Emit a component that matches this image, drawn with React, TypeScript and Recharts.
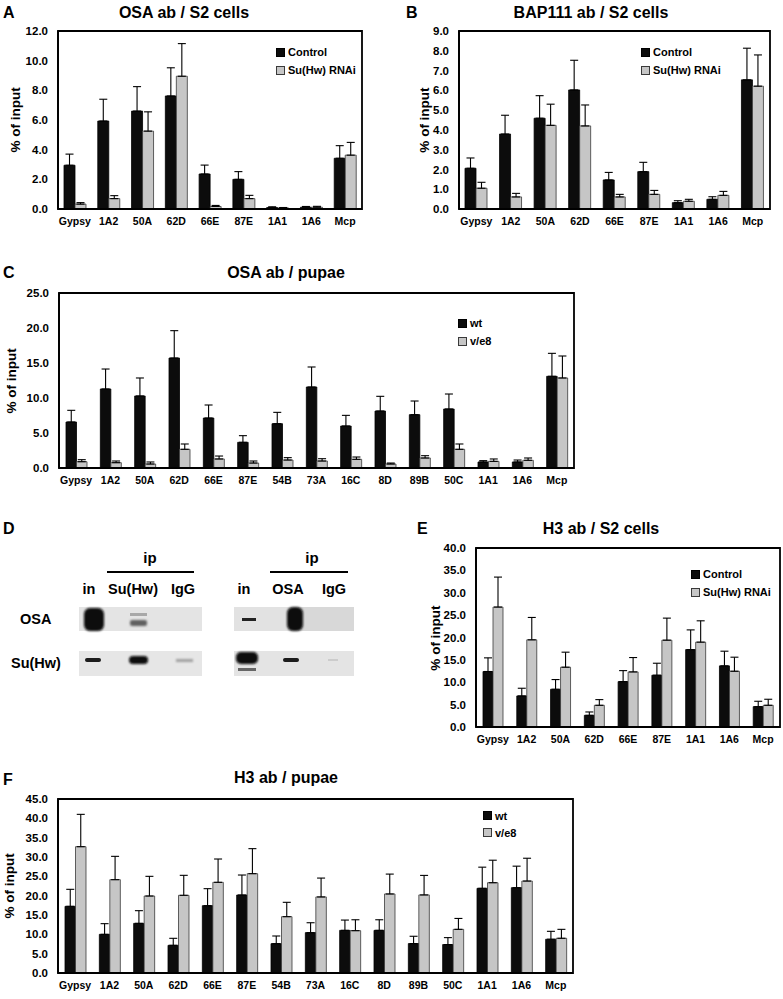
import React from 'react';
import { BarChart, Bar, XAxis, YAxis, ErrorBar, ReferenceArea, Legend } from 'recharts';

// ---------- data ----------
const s2Categories = ['Gypsy', '1A2', '50A', '62D', '66E', '87E', '1A1', '1A6', 'Mcp'];
const pupaeCategories = ['Gypsy', '1A2', '50A', '62D', '66E', '87E', '54B', '73A', '16C', '8D', '89B', '50C', '1A1', '1A6', 'Mcp'];

// A: OSA ab / S2 cells
const osaS2Control = [2.95, 5.93, 6.6, 7.62, 2.36, 2.0, 0.1, 0.12, 3.42];
const osaS2ControlErr = [0.75, 1.47, 1.65, 1.9, 0.6, 0.52, 0.05, 0.05, 0.85];
const osaS2Rnai = [0.33, 0.7, 5.25, 8.95, 0.17, 0.7, 0.07, 0.12, 3.63];
const osaS2RnaiErr = [0.1, 0.2, 1.3, 2.2, 0.07, 0.22, 0.03, 0.06, 0.86];
const osaS2Ticks = [0, 2, 4, 6, 8, 10, 12];

// B: BAP111 ab / S2 cells
const bapS2Control = [2.06, 3.79, 4.59, 6.02, 1.47, 1.89, 0.32, 0.49, 6.53];
const bapS2ControlErr = [0.52, 0.95, 1.14, 1.5, 0.38, 0.47, 0.1, 0.13, 1.6];
const bapS2Rnai = [1.05, 0.61, 4.23, 4.2, 0.61, 0.74, 0.39, 0.69, 6.21];
const bapS2RnaiErr = [0.3, 0.18, 1.07, 1.06, 0.13, 0.2, 0.1, 0.2, 1.58];
const bapS2Ticks = [0, 1, 2, 3, 4, 5, 6, 7, 8, 9];

// C: OSA ab / pupae
const osaPupaeWt = [6.57, 11.29, 10.29, 15.71, 7.14, 3.67, 6.33, 11.57, 6.0, 8.14, 7.62, 8.43, 0.86, 0.86, 13.1];
const osaPupaeWtErr = [1.67, 2.85, 2.57, 3.91, 1.86, 0.95, 1.62, 2.86, 1.52, 2.1, 1.95, 2.14, 0.19, 0.28, 3.28];
const osaPupaeVe8 = [0.9, 0.76, 0.57, 2.67, 1.29, 0.71, 1.14, 1.0, 1.24, 0.57, 1.43, 2.67, 0.95, 1.1, 12.86];
const osaPupaeVe8Err = [0.29, 0.24, 0.29, 0.76, 0.42, 0.29, 0.34, 0.33, 0.33, 0.14, 0.33, 0.76, 0.34, 0.33, 3.14];
const osaPupaeTicks = [0, 5, 10, 15, 20, 25];

// E: H3 ab / S2 cells
const h3S2Control = [12.4, 6.94, 8.43, 2.61, 10.15, 11.57, 17.3, 13.66, 4.55];
const h3S2ControlErr = [3.05, 1.72, 2.17, 0.75, 2.45, 2.68, 4.4, 3.28, 1.2];
const h3S2Rnai = [26.8, 19.48, 13.36, 4.85, 12.31, 19.4, 18.96, 12.46, 4.85];
const h3S2RnaiErr = [6.7, 5.0, 3.36, 1.27, 3.21, 4.93, 4.77, 3.14, 1.35];
const h3S2Ticks = [0, 5, 10, 15, 20, 25, 30, 35, 40];

// F: H3 ab / pupae
const h3PupaeWt = [17.24, 10.0, 12.84, 7.16, 17.41, 20.17, 7.59, 10.44, 11.03, 11.03, 7.61, 7.36, 21.9, 22.07, 8.73];
const h3PupaeWtErr = [4.4, 2.76, 3.28, 1.81, 4.4, 5.17, 1.98, 2.56, 2.66, 2.74, 1.89, 1.79, 5.47, 5.56, 2.05];
const h3PupaeVe8 = [32.67, 24.14, 19.91, 20.09, 23.45, 25.69, 14.57, 19.67, 10.95, 20.44, 20.19, 11.29, 23.35, 23.78, 8.98];
const h3PupaeVe8Err = [8.36, 6.03, 5.09, 5.17, 6.03, 6.47, 3.71, 4.88, 2.82, 5.14, 5.05, 2.82, 5.82, 5.9, 2.31];
const h3PupaeTicks = [0, 5, 10, 15, 20, 25, 30, 35, 40, 45];

// ---------- styling ----------
const FONT = "'Liberation Sans', Arial, sans-serif";
const DARK = '#0c0c0c';
const LIGHT = '#c6c6c6';
const LIGHT_STROKE = '#3a3a3a';

type Series = { name: string; values: number[]; errors: number[]; fill: string; stroke: string };

type PanelProps = {
  left: number;
  top: number;
  width: number;
  height: number;
  plotLeft: number; // local
  plotTop: number;
  plotRight: number;
  plotBottom: number;
  categories: string[];
  series: Series[];
  ticks: number[];
  barSize: number;
  legendLeft: number;
  legendTop: number;
  legendRow: number;
};

function buildRows(categories: string[], series: Series[]) {
  return categories.map((c, i) => {
    const row: Record<string, any> = { category: c };
    series.forEach((s, k) => {
      row['v' + k] = s.values[i];
      row['e' + k] = [0, s.errors[i]];
    });
    return row;
  });
}

function LegendBox({ series, rowH }: { series: Series[]; rowH: number }) {
  return (
    <div style={{ fontFamily: FONT, fontWeight: 700, fontSize: 11, color: '#000' }}>
      {series.map((s) => (
        <div key={s.name} style={{ display: 'flex', alignItems: 'center', height: rowH, whiteSpace: 'nowrap' }}>
          <span
            style={{
              display: 'inline-block',
              width: 7,
              height: 7,
              background: s.fill,
              border: `1px solid ${s.stroke}`,
              marginRight: 3,
            }}
          />
          {s.name}
        </div>
      ))}
    </div>
  );
}

function Panel(p: PanelProps) {
  const rows = buildRows(p.categories, p.series);
  const xAxisH = 22;
  const yMax = p.ticks[p.ticks.length - 1];
  return (
    <div style={{ position: 'absolute', left: p.left, top: p.top, width: p.width, height: p.height }}>
      <BarChart
        width={p.width}
        height={p.height}
        data={rows}
        barGap={0}
        margin={{ top: p.plotTop, right: p.width - p.plotRight, bottom: p.height - p.plotBottom - xAxisH, left: 0 }}
      >
        <XAxis
          dataKey="category"
          height={xAxisH}
          tickLine={false}
          tickSize={0}
          tickMargin={9}
          axisLine={{ stroke: '#000', strokeWidth: 1.8 }}
          interval={0}
          tick={{ fontFamily: FONT, fontWeight: 700, fontSize: 10.5, fill: '#000' }}
        />
        <YAxis
          width={p.plotLeft}
          domain={[0, yMax]}
          ticks={p.ticks}
          interval={0}
          tickLine={false}
          tickSize={0}
          tickMargin={10}
          axisLine={{ stroke: '#000', strokeWidth: 1.8 }}
          tickFormatter={(v: number) => v.toFixed(1)}
          tick={{ fontFamily: FONT, fontWeight: 700, fontSize: 11.5, fill: '#000' }}
        />
        <ReferenceArea y1={0} y2={yMax} fill="none" stroke="#000" strokeWidth={1.8} ifOverflow="visible" />
        <Legend
          layout="vertical"
          align="center"
          verticalAlign="middle"
          wrapperStyle={{ left: p.legendLeft, top: p.legendTop, width: 'auto' }}
          content={() => <LegendBox series={p.series} rowH={p.legendRow} />}
        />
        {p.series.map((s, k) => (
          <Bar
            key={s.name}
            dataKey={'v' + k}
            name={s.name}
            fill={s.fill}
            stroke={s.stroke}
            strokeWidth={0.8}
            barSize={p.barSize}
            isAnimationActive={false}
          >
            <ErrorBar dataKey={'e' + k} width={4} stroke="#000" strokeWidth={1.1} direction="y" />
          </Bar>
        ))}
      </BarChart>
    </div>
  );
}

const s2Series = (c: number[], ce: number[], r: number[], re: number[]): Series[] => [
  { name: 'Control', values: c, errors: ce, fill: DARK, stroke: '#000' },
  { name: 'Su(Hw) RNAi', values: r, errors: re, fill: LIGHT, stroke: LIGHT_STROKE },
];
const pupaeSeries = (w: number[], we: number[], v: number[], ve: number[]): Series[] => [
  { name: 'wt', values: w, errors: we, fill: DARK, stroke: '#000' },
  { name: 'v/e8', values: v, errors: ve, fill: LIGHT, stroke: LIGHT_STROKE },
];

function Overlay() {
  const t = { fontFamily: FONT, fontWeight: 700 } as const;
  const yLabel = (x: number, y: number) => (
    <text x={x} y={y} transform={`rotate(-90 ${x} ${y})`} textAnchor="middle" dominantBaseline="central" fontSize={13.5} {...t}>
      % of input
    </text>
  );
  const letter = (x: number, y: number, s: string) => (
    <text x={x} y={y} dominantBaseline="central" fontSize={16} {...t}>{s}</text>
  );
  const title = (x: number, y: number, s: string) => (
    <text x={x} y={y} textAnchor="middle" dominantBaseline="central" fontSize={16} {...t}>{s}</text>
  );
  const label = (x: number, y: number, s: string, size = 14.5) => (
    <text x={x} y={y} textAnchor="middle" dominantBaseline="central" fontSize={size} {...t}>{s}</text>
  );
  return (
    <svg width={783} height={999} style={{ position: 'absolute', left: 0, top: 0, pointerEvents: 'none' }}>
      <defs>
        <filter id="blur" x="-50%" y="-50%" width="200%" height="200%">
          <feGaussianBlur stdDeviation="1.3" />
        </filter>
        <filter id="blur2" x="-50%" y="-50%" width="200%" height="200%">
          <feGaussianBlur stdDeviation="0.7" />
        </filter>
      </defs>
      {/* panel letters and titles */}
      {letter(3, 12, 'A')}
      {title(184, 12, 'OSA ab / S2 cells')}
      {letter(406, 12, 'B')}
      {title(591, 12, 'BAP111 ab / S2 cells')}
      {letter(3, 272, 'C')}
      {title(286, 272, 'OSA ab / pupae')}
      {letter(3, 528, 'D')}
      {letter(417, 528, 'E')}
      {title(601, 528, 'H3 ab / S2 cells')}
      {letter(3, 779, 'F')}
      {title(286, 777, 'H3 ab / pupae')}

      {/* y axis titles */}
      {yLabel(15, 120)}
      {yLabel(424, 120)}
      {yLabel(11, 381)}
      {yLabel(435, 638)}
      {yLabel(9, 886)}

      {/* panel D: co-immunoprecipitation blots */}
      {label(150, 557, 'ip', 15)}
      <line x1={107} y1={572} x2={194} y2={572} stroke="#000" strokeWidth={2} />
      {label(312, 557, 'ip', 15)}
      <line x1={270} y1={572} x2={348} y2={572} stroke="#000" strokeWidth={2} />
      {label(89, 589, 'in')}
      {label(133, 589, 'Su(Hw)')}
      {label(183, 589, 'IgG')}
      {label(244, 589, 'in')}
      {label(288, 589, 'OSA')}
      {label(334, 589, 'IgG')}
      <text x={20} y={619} dominantBaseline="central" fontSize={14.5} {...t}>OSA</text>
      <text x={11} y={663} dominantBaseline="central" fontSize={14.5} {...t}>Su(Hw)</text>

      {/* strips */}
      <rect x={79} y={607} width={123} height={24} fill="#e4e4e4" />
      <rect x={234} y={607} width={120} height={24} fill="#e2e2e2" />
      <rect x={300} y={607} width={54} height={24} fill="#d8d8d8" />
      <rect x={79} y={651} width={123} height={25} fill="#e6e6e6" />
      <rect x={234} y={651} width={120} height={25} fill="#e4e4e4" />

      {/* OSA row bands */}
      <rect x={84} y={608} width={20} height={23} rx={6} fill="#0a0a0a" filter="url(#blur)" />
      <rect x={130} y={613} width={17} height={3} fill="#a8a8a8" filter="url(#blur2)" />
      <rect x={130} y={620} width={17} height={6} rx={2} fill="#606060" filter="url(#blur)" />
      <rect x={242} y={618} width={14} height={3} fill="#222" filter="url(#blur2)" />
      <rect x={287} y={607} width={16} height={24} rx={6} fill="#080808" filter="url(#blur)" />

      {/* Su(Hw) row bands */}
      <rect x={85} y={658} width={16} height={4} rx={2} fill="#1a1a1a" filter="url(#blur2)" />
      <rect x={129} y={656} width={19} height={8} rx={4} fill="#080808" filter="url(#blur)" />
      <rect x={176} y={659} width={17} height={3} fill="#a0a0a0" filter="url(#blur)" />
      <rect x={236} y={652} width={22} height={12} rx={5} fill="#080808" filter="url(#blur)" />
      <rect x={238} y={668} width={18} height={3} fill="#666" filter="url(#blur2)" />
      <rect x={283} y={658} width={16} height={4} rx={2} fill="#1a1a1a" filter="url(#blur2)" />
      <rect x={328} y={659} width={10} height={2} fill="#ccc" filter="url(#blur2)" />
    </svg>
  );
}

export default function App() {
  return (
    <div style={{ position: 'relative', width: 783, height: 999, background: '#fff', overflow: 'hidden' }}>
      <style>{`body{margin:0;}`}</style>
      <Panel
        left={0}
        top={0}
        width={372}
        height={235}
        plotLeft={58}
        plotTop={31}
        plotRight={362}
        plotBottom={209}
        categories={s2Categories}
        series={s2Series(osaS2Control, osaS2ControlErr, osaS2Rnai, osaS2RnaiErr)}
        ticks={osaS2Ticks}
        barSize={11}
        legendLeft={276}
        legendTop={43}
        legendRow={18}
      />
      <Panel
        left={390}
        top={0}
        width={393}
        height={235}
        plotLeft={69}
        plotTop={31}
        plotRight={380}
        plotBottom={209}
        categories={s2Categories}
        series={s2Series(bapS2Control, bapS2ControlErr, bapS2Rnai, bapS2RnaiErr)}
        ticks={bapS2Ticks}
        barSize={11}
        legendLeft={251}
        legendTop={43}
        legendRow={18}
      />
      <Panel
        left={0}
        top={250}
        width={590}
        height={240}
        plotLeft={59}
        plotTop={43}
        plotRight={574}
        plotBottom={218}
        categories={pupaeCategories}
        series={pupaeSeries(osaPupaeWt, osaPupaeWtErr, osaPupaeVe8, osaPupaeVe8Err)}
        ticks={osaPupaeTicks}
        barSize={10.5}
        legendLeft={458}
        legendTop={64}
        legendRow={18}
      />
      <Panel
        left={390}
        top={510}
        width={393}
        height={240}
        plotLeft={86}
        plotTop={38}
        plotRight={390}
        plotBottom={217}
        categories={s2Categories}
        series={s2Series(h3S2Control, h3S2ControlErr, h3S2Rnai, h3S2RnaiErr)}
        ticks={h3S2Ticks}
        barSize={10}
        legendLeft={301}
        legendTop={55}
        legendRow={18}
      />
      <Panel
        left={0}
        top={760}
        width={590}
        height={239}
        plotLeft={58}
        plotTop={39}
        plotRight={573}
        plotBottom={213}
        categories={pupaeCategories}
        series={pupaeSeries(h3PupaeWt, h3PupaeWtErr, h3PupaeVe8, h3PupaeVe8Err)}
        ticks={h3PupaeTicks}
        barSize={10.5}
        legendLeft={483}
        legendTop={47}
        legendRow={17}
      />
      <Overlay />
    </div>
  );
}
